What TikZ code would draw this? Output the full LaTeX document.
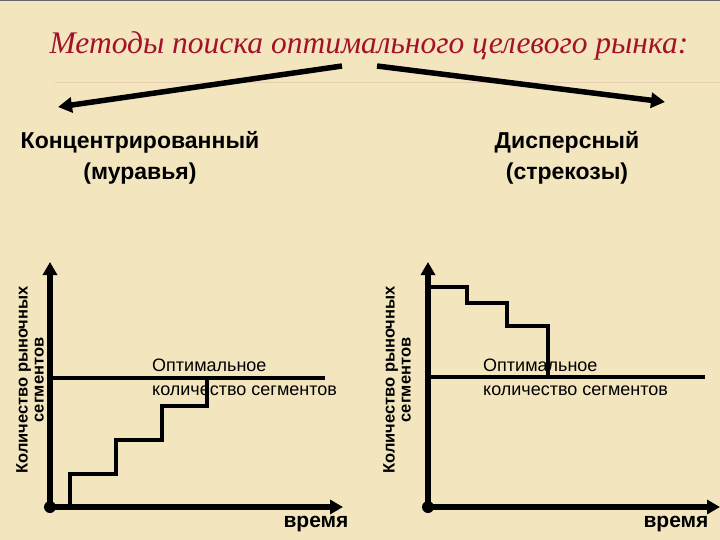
\documentclass[tikz,border=0pt]{standalone}
\usepackage{fontspec}
\setmainfont{Liberation Sans}
\newfontfamily\titlefont{Liberation Serif}
\usetikzlibrary{arrows.meta}
\definecolor{bgc}{HTML}{F3E6BE}
\definecolor{titlec}{HTML}{A3122A}
\tikzset{
  axis/.style={line width=5.5pt,-{Triangle[length=13pt,width=14pt]}},
  stairs/.style={line width=3.6pt},
  optline/.style={line width=4.4pt},
  lbl/.style={font=\fontsize{18}{24}\selectfont,align=left,anchor=west,inner sep=0pt},
  ylbl/.style={font=\bfseries\fontsize{16.5}{16}\selectfont,align=center,rotate=90,inner sep=0pt},
  tlbl/.style={font=\bfseries\fontsize{21}{21}\selectfont,inner sep=0pt},
  head/.style={font=\bfseries\fontsize{23}{31}\selectfont,align=center,inner sep=0pt},
  bigarrow/.style={line width=5.5pt,-{Triangle[length=14pt,width=15pt]}}
}
\begin{document}
\begin{tikzpicture}[x=1pt,y=-1pt]
\fill[bgc] (0,0) rectangle (720,540);
\useasboundingbox (0,0) rectangle (720,540);
\draw[black!60,line width=1pt] (0,1) -- (720,1);
\draw[brown!40,line width=0.8pt] (55,82) -- (720,82);
\node[font=\titlefont\itshape\fontsize{31.5}{32}\selectfont,text=titlec] (title) at (369,46) {Методы поиска оптимального целевого рынка:};
\coordinate (ls) at (342,66); \coordinate (le) at (58,107);
\coordinate (rs) at (377,66); \coordinate (re) at (665,102);
\draw[bigarrow] (ls) -- (le);
\draw[bigarrow] (rs) -- (re);
\node[head] (h1) at (140,158) {Концентрированный\\(муравья)};
\node[head] (h2) at (567,158) {Дисперсный\\(стрекозы)};
% left chart
\coordinate (o1) at (50,507);
\coordinate (y1) at (50,262);
\coordinate (x1) at (343,507);
\draw[axis] (o1) -- (y1);
\draw[axis] (o1) -- (x1);
\fill (o1) circle (6pt);
\coordinate (p1) at (50,378); \coordinate (p2) at (325,378);
\draw[optline] (p1) -- (p2);
\draw[stairs] (70,507) -- (70,474) -- (116,474) -- (116,440) -- (162,440) -- (162,406) -- (207,406) -- (207,378);
\node[lbl] (t1) at (152,377) {Оптимальное\\количество сегментов};
\node[ylbl] (yl1) at (30,380) {Количество рыночных\\сегментов};
\node[tlbl] (xl1) at (316,524) {время};
% right chart
\coordinate (o2) at (428,507);
\coordinate (y2) at (428,262);
\coordinate (x2) at (720,507);
\draw[axis] (o2) -- (y2);
\draw[axis] (o2) -- (x2);
\fill (o2) circle (6pt);
\coordinate (q1) at (428,377); \coordinate (q2) at (705,377);
\draw[optline] (q1) -- (q2);
\draw[stairs] (428,287) -- (467,287) -- (467,303) -- (507,303) -- (507,326) -- (548,326) -- (548,377);
\node[lbl] (t2) at (483,377) {Оптимальное\\количество сегментов};
\node[ylbl] (yl2) at (397,380) {Количество рыночных\\сегментов};
\node[tlbl] (xl2) at (676,524) {время};
\end{tikzpicture}
\end{document}
